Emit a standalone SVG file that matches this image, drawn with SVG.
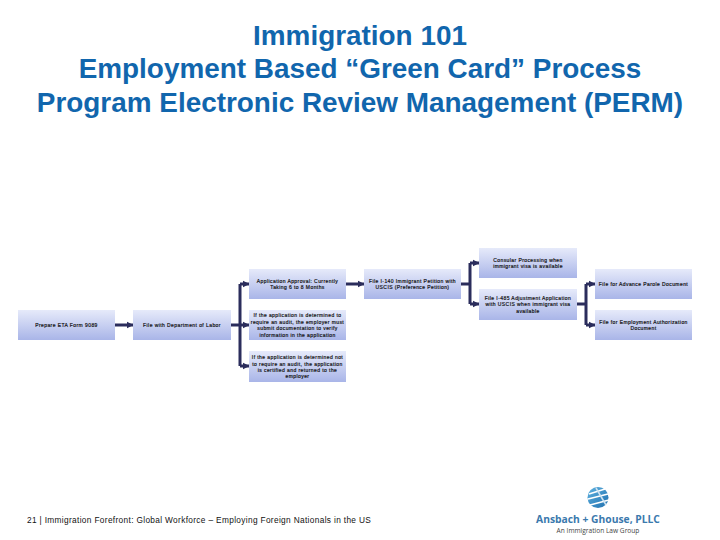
<svg xmlns="http://www.w3.org/2000/svg" width="720" height="540" viewBox="0 0 720 540">
<defs>
<linearGradient id="g" x1="0" y1="0" x2="0" y2="1"><stop offset="0" stop-color="#e6eafa"/><stop offset="1" stop-color="#a9b5e8"/></linearGradient>
<linearGradient id="s1" x1="0" y1="0" x2="1" y2="1"><stop offset="0" stop-color="#5fb2e0"/><stop offset="1" stop-color="#1f6fae"/></linearGradient>
<marker id="a" viewBox="0 0 6 6" refX="5.5" refY="3" markerWidth="2.2" markerHeight="2.4" orient="auto"><path d="M0 0L6 3L0 6Z" fill="#2b2d5c"/></marker>
</defs>
<style>
.t{font-family:"Liberation Sans",Arial,sans-serif;font-size:27.9px;font-weight:bold;fill:#1166ad;text-anchor:middle}
.b{fill:url(#g)}
.l{font-family:"Liberation Sans",Arial,sans-serif;font-size:5px;fill:#111;stroke:#111;stroke-width:.18px;text-anchor:middle;letter-spacing:.42px}
.c{fill:none;stroke:#2b2d5c;stroke-width:3;stroke-linejoin:round}
.e{marker-end:url(#a)}
.f{font-family:"Liberation Sans",Arial,sans-serif;font-size:8.3px;fill:#111;letter-spacing:.34px}
</style>
<rect width="720" height="540" fill="#fff"/>
<g id="title">
<text class="t" x="360" y="45">Immigration 101</text>
<text class="t" x="360" y="78">Employment Based “Green Card” Process</text>
<text class="t" x="360" y="112">Program Electronic Review Management (PERM)</text>
</g>
<g id="connectors">
<path class="c e" d="M115 325H133"/>
<path class="c" d="M231 325H240"/>
<path class="c e" d="M240 284H249"/>
<path class="c e" d="M240 325H249"/>
<path class="c e" d="M240 366H249"/>
<path class="c" d="M240 284V366"/>
<path class="c e" d="M346 284H364"/>
<path class="c" d="M461 284H470"/>
<path class="c e" d="M470 263H479"/>
<path class="c e" d="M470 304H479"/>
<path class="c" d="M470 263V304"/>
<path class="c" d="M577 304H586"/>
<path class="c e" d="M586 284H595"/>
<path class="c e" d="M586 325H595"/>
<path class="c" d="M586 284V325"/>
</g>
<g id="n1"><rect class="b" x="18" y="310" width="97" height="30"/><text class="l" x="66.500" y="327">Prepare ETA Form 9089</text></g>
<g id="n2"><rect class="b" x="133" y="310" width="98" height="30"/><text class="l" x="182" y="327">File with Department of Labor</text></g>
<g id="n3"><rect class="b" x="249" y="269" width="97" height="30"/><text class="l" x="297.500" y="283">Application Approval: Currently</text><text class="l" x="297.500" y="289">Taking 6 to 8 Months</text></g>
<g id="n4"><rect class="b" x="249" y="310" width="97" height="30"/><text class="l" x="297.500" y="317">If the application is determined to</text><text class="l" x="297.500" y="324">require an audit, the employer must</text><text class="l" x="297.500" y="330">submit documentation to verify</text><text class="l" x="297.500" y="337">information in the application</text></g>
<g id="n5"><rect class="b" x="249" y="351" width="97" height="31"/><text class="l" x="297.500" y="359">If the application is determined not</text><text class="l" x="297.500" y="366">to require an audit, the application</text><text class="l" x="297.500" y="372">is certified and returned to the</text><text class="l" x="297.500" y="378">employer</text></g>
<g id="n6"><rect class="b" x="364" y="269" width="97" height="30"/><text class="l" x="412.500" y="283">File I-140 Immigrant Petition with</text><text class="l" x="412.500" y="289">USCIS (Preference Petition)</text></g>
<g id="n7"><rect class="b" x="479" y="248" width="98" height="30"/><text class="l" x="528" y="262">Consular Processing when</text><text class="l" x="528" y="268">immigrant visa is available</text></g>
<g id="n8"><rect class="b" x="479" y="289" width="98" height="31"/><text class="l" x="528" y="300">File I-485 Adjustment Application</text><text class="l" x="528" y="306">with USCIS when immigrant visa</text><text class="l" x="528" y="313">available</text></g>
<g id="n9"><rect class="b" x="595" y="269" width="97" height="30"/><text class="l" x="643.500" y="286">File for Advance Parole Document</text></g>
<g id="n10"><rect class="b" x="595" y="310" width="97" height="30"/><text class="l" x="643.500" y="324">File for Employment Authorization</text><text class="l" x="643.500" y="330">Document</text></g>
<text class="f" x="27" y="523">21 | Immigration Forefront: Global Workforce – Employing Foreign Nationals in the US</text>
<g id="logo">
<circle cx="598" cy="497.500" r="10.500" fill="url(#s1)"/>
<path d="M589 494L605 489M588 499L608 494M590 505L609 500" stroke="#fff" stroke-width="1.600" fill="none"/>
<path d="M596 488L606 505" stroke="#cfe3f2" stroke-width="1.500" fill="none"/>
<text x="598" y="523" font-family="'Open Sans','Liberation Sans',sans-serif" font-size="10.300" font-weight="bold" fill="#3b79ad" text-anchor="middle">Ansbach + Ghouse, PLLC</text>
<text x="598" y="532.500" font-family="'Open Sans','Liberation Sans',sans-serif" font-size="6.600" fill="#444" text-anchor="middle">An Immigration Law Group</text>
</g>
</svg>
